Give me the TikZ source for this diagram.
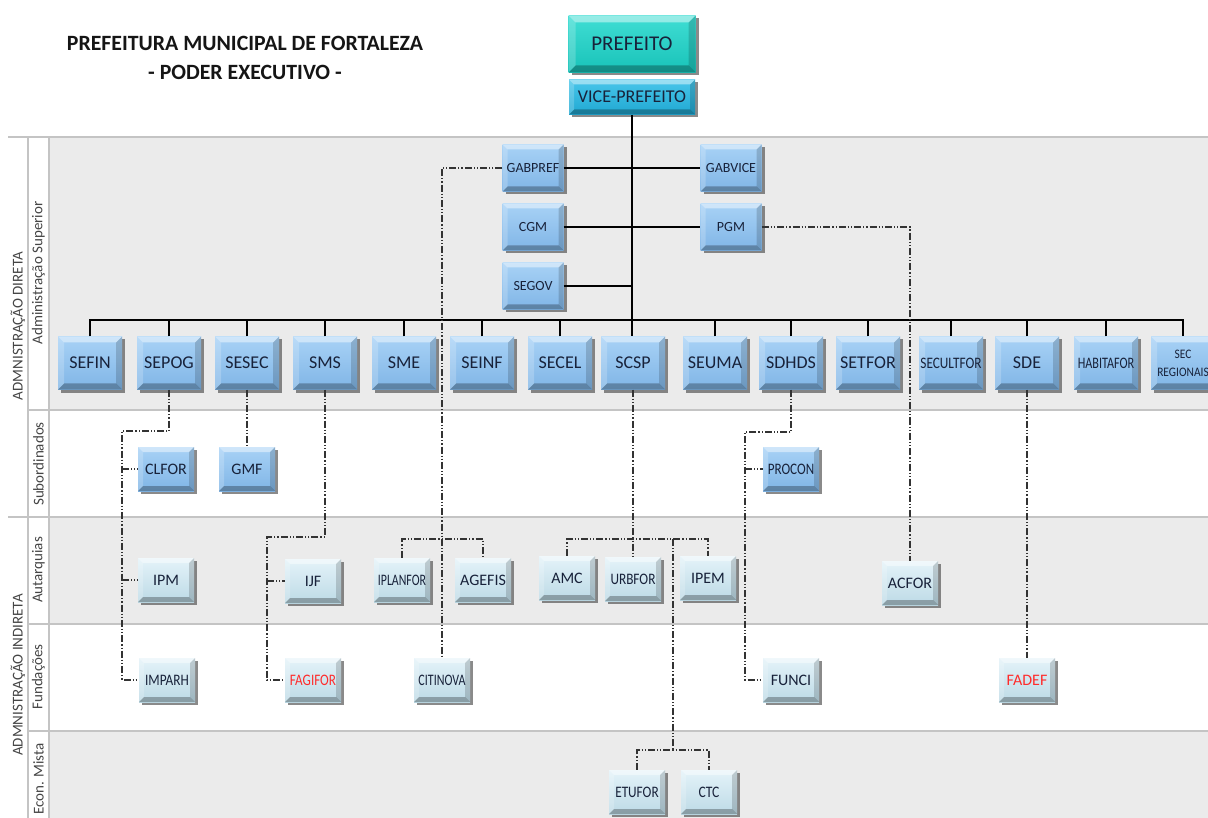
\documentclass[tikz,border=0pt]{standalone}
\usepackage{fontspec}
\usepackage{graphicx}
\setmainfont{Carlito}
\usetikzlibrary{shadows}
\definecolor{band}{HTML}{EBEBEB}
\definecolor{bandline}{HTML}{C4C4C4}
\definecolor{secA}{HTML}{A8D2F6}
\definecolor{secB}{HTML}{80B5E6}
\definecolor{palA}{HTML}{E4F3F9}
\definecolor{palB}{HTML}{BDDAE6}
\definecolor{tealA}{HTML}{40DED4}
\definecolor{tealB}{HTML}{18C2B8}
\definecolor{cyanA}{HTML}{48C6EA}
\definecolor{cyanB}{HTML}{20A8D2}
\definecolor{txt}{HTML}{18223A}
\definecolor{redtxt}{HTML}{FF2B2B}
\definecolor{lbl}{HTML}{454545}
\definecolor{ddc}{HTML}{333333}
\definecolor{titlec}{HTML}{151515}
\newcommand\cz[2]{\scalebox{#1}[1]{#2}}
\tikzset{
  bevel/.style={path picture={
    \fill[white,opacity=.45] (path picture bounding box.north west) -- (path picture bounding box.north east)
      -- ([xshift=-#1,yshift=-#1]path picture bounding box.north east) -- ([xshift=#1,yshift=-#1]path picture bounding box.north west) -- cycle;
    \fill[white,opacity=.2] (path picture bounding box.north west) -- (path picture bounding box.south west)
      -- ([xshift=#1,yshift=#1]path picture bounding box.south west) -- ([xshift=#1,yshift=-#1]path picture bounding box.north west) -- cycle;
    \fill[black,opacity=.28] (path picture bounding box.south west) -- (path picture bounding box.south east)
      -- ([xshift=-#1,yshift=#1]path picture bounding box.south east) -- ([xshift=#1,yshift=#1]path picture bounding box.south west) -- cycle;
    \fill[black,opacity=.16] (path picture bounding box.north east) -- (path picture bounding box.south east)
      -- ([xshift=-#1,yshift=#1]path picture bounding box.south east) -- ([xshift=-#1,yshift=-#1]path picture bounding box.north east) -- cycle;
  }},
  bevel/.default=6pt,
  box/.style={rectangle, inner sep=1pt, text=txt, align=center,
    drop shadow={shadow xshift=3pt, shadow yshift=-3pt, fill=black!70, opacity=.65}},
  secbox/.style={box, bevel=6pt, minimum width=64pt, minimum height=53pt, top color=secA, bottom color=secB,
    font=\fontsize{18}{19}\selectfont},
  supbox/.style={box, bevel=5pt, minimum width=61pt, minimum height=47pt, top color=secA, bottom color=secB,
    font=\fontsize{14}{15}\selectfont},
  subbox/.style={box, bevel=5pt, minimum width=56pt, minimum height=44pt, top color=secA, bottom color=secB,
    font=\fontsize{16}{17}\selectfont},
  indbox/.style={box, bevel=5pt, minimum width=56pt, minimum height=44pt, top color=palA, bottom color=palB,
    font=\fontsize{16}{17}\selectfont},
  conn/.style={line width=1.3pt, black},
  ddl/.style={line width=1.2pt, ddc, dash pattern=on 7pt off 2pt on 1.2pt off 2pt on 1.2pt off 2pt},
  bl/.style={bandline, line width=1.8pt},
  lab/.style={rotate=90, text=lbl, font=\fontsize{15}{16}\selectfont},
}
\begin{document}
\begin{tikzpicture}[x=1pt,y=-1pt]
\useasboundingbox (0,0) rectangle (1208,818);
% bands
\fill[band] (49,137) rectangle (1208,410);
\fill[band] (49,517) rectangle (1208,624);
\fill[band] (49,731) rectangle (1208,818);
\draw[bl] (8,137) -- (1208,137);
\draw[bl] (28,410) -- (1208,410);
\draw[bl] (8,517) -- (1208,517);
\draw[bl] (28,624) -- (1208,624);
\draw[bl] (28,731) -- (1208,731);
\draw[bl] (28,137) -- (28,818);
\draw[bl] (49,137) -- (49,818);
% lane labels
\node[lab] (ldir) at (18,326) {ADMNISTRAÇÃO DIRETA};
\node[lab] (lind) at (18,675) {ADMNISTRAÇÃO INDIRETA};
\node[lab] (lsup) at (38.5,273) {Administração Superior};
\node[lab] (lsub) at (38.5,464) {Subordinados};
\node[lab] (laut) at (38.5,570) {Autarquias};
\node[lab] (lfun) at (38.5,677) {Fundações};
\node[lab] (leco) at (38.5,779) {Econ. Mista};
% title
\node[text=titlec, font=\bfseries\fontsize{21.8}{23}\selectfont] (t1) at (245,43) {PREFEITURA MUNICIPAL DE FORTALEZA};
\node[text=titlec, font=\bfseries\fontsize{21.8}{23}\selectfont] (t2) at (245,72) {- PODER EXECUTIVO -};
% top
\node[box, bevel=7pt, minimum width=127pt, minimum height=57pt, top color=tealA, bottom color=tealB,
  font=\fontsize{21}{22}\selectfont] (pref) at (632,44) {PREFEITO};
\node[box, bevel=5pt, minimum width=126pt, minimum height=35pt, top color=cyanA, bottom color=cyanB,
  font=\fontsize{18}{19}\selectfont] (vice) at (632,97) {VICE-PREFEITO};
% secretariats
\coordinate (busy) at (0,320);
\node[secbox] (sefin) at (90,363) {SEFIN};
\node[secbox] (sepog) at (169,363) {SEPOG};
\node[secbox] (sesec) at (247,363) {SESEC};
\node[secbox] (sms) at (325,363) {SMS};
\node[secbox] (sme) at (404,363) {SME};
\node[secbox] (seinf) at (482,363) {SEINF};
\node[secbox] (secel) at (560,363) {SECEL};
\node[secbox] (scsp) at (633,363) {SCSP};
\node[secbox] (seuma) at (715,363) {SEUMA};
\node[secbox] (sdhds) at (791,363) {SDHDS};
\node[secbox] (setfor) at (868,363) {SETFOR};
\node[secbox] (secult) at (951,363) {\fontsize{16}{17}\selectfont\cz{0.83}{SECULTFOR}};
\node[secbox] (sde) at (1027,363) {SDE};
\node[secbox] (habit) at (1106,363) {\fontsize{16}{17}\selectfont\cz{0.76}{HABITAFOR}};
\node[secbox] (secreg) at (1183,363) {\fontsize{13}{16}\selectfont\cz{0.88}{SEC}\\[-1pt]\fontsize{13}{16}\selectfont\cz{0.88}{REGIONAIS}};
% solid connectors
\draw[conn] (vice.south) -- (vice.south |- scsp.north);
\draw[conn] (sefin.north) -- (sefin.north |- busy) -- (secreg.north |- busy) -- (secreg.north);
\foreach \n in {sepog,sesec,sms,sme,seinf,secel,seuma,sdhds,setfor,secult,sde,habit}
  \draw[conn] (\n.north) -- (\n.north |- busy);
% upper boxes
\node[supbox] (gabpref) at (533,168) {GABPREF};
\node[supbox] (gabvice) at (731,168) {GABVICE};
\node[supbox] (cgm) at (533,227) {CGM};
\node[supbox] (pgm) at (731,227) {PGM};
\node[supbox] (segov) at (533,286) {SEGOV};
\draw[conn] (gabpref.east) -- (gabvice.west);
\draw[conn] (cgm.east) -- (pgm.west);
\draw[conn] (segov.east) -- (segov.east -| vice.south);
% lower boxes
\node[subbox] (clfor) at (166,469) {CLFOR};
\node[subbox] (gmf) at (247,469) {GMF};
\node[subbox] (procon) at (791,469) {\cz{0.82}{PROCON}};
\node[indbox] (ipm) at (166,580) {IPM};
\node[indbox] (ijf) at (313,581) {IJF};
\node[indbox] (iplanfor) at (402,580) {\cz{0.74}{IPLANFOR}};
\node[indbox] (agefis) at (483,580) {AGEFIS};
\node[indbox] (amc) at (567,578) {AMC};
\node[indbox] (urbfor) at (633,579) {\cz{0.83}{URBFOR}};
\node[indbox] (ipem) at (708,578) {IPEM};
\node[indbox] (acfor) at (910,583) {ACFOR};
\node[indbox] (imparh) at (167,680) {\cz{0.83}{IMPARH}};
\node[indbox, text=redtxt] (fagifor) at (313,680) {\cz{0.82}{FAGIFOR}};
\node[indbox] (citinova) at (442,680) {\cz{0.75}{CITINOVA}};
\node[indbox] (funci) at (791,680) {FUNCI};
\node[indbox, text=redtxt] (fadef) at (1027,680) {FADEF};
\node[indbox] (etufor) at (637,792) {\cz{0.83}{ETUFOR}};
\node[indbox] (ctc) at (709,792) {\cz{0.85}{CTC}};
% dash-dot connectors
\coordinate (c1) at (122,431);
\draw[ddl] (sepog.south) |- (c1) -- (c1 |- imparh.west) -- (imparh.west);
\draw[ddl] (c1 |- clfor.west) -- (clfor.west);
\draw[ddl] (c1 |- ipm.west) -- (ipm.west);
\draw[ddl] (sesec.south) -- (gmf.north);
\coordinate (c3) at (267,537);
\draw[ddl] (sms.south) |- (c3) -- (c3 |- fagifor.west) -- (fagifor.west);
\draw[ddl] (c3 |- ijf.west) -- (ijf.west);
\draw[ddl] (gabpref.west) -| (citinova.north);
\coordinate (c5) at (0,539);
\draw[ddl] (iplanfor.north) |- (agefis.north |- c5) -- (agefis.north);
\draw[ddl] (scsp.south) -- (urbfor.north);
\draw[ddl] (amc.north) |- (ipem.north |- c5) -- (ipem.north);
\coordinate (c6) at (673,539);
\coordinate (c7) at (673,750);
\draw[ddl] (c6) -- (c7);
\draw[ddl] (etufor.north) |- (ctc.north |- c7) -- (ctc.north);
\coordinate (c8) at (745,432);
\draw[ddl] (sdhds.south) |- (c8) -- (c8 |- funci.west) -- (funci.west);
\draw[ddl] (c8 |- procon.west) -- (procon.west);
\draw[ddl] (pgm.east) -| (acfor.north);
\draw[ddl] (sde.south) -- (fadef.north);
\end{tikzpicture}
\end{document}
